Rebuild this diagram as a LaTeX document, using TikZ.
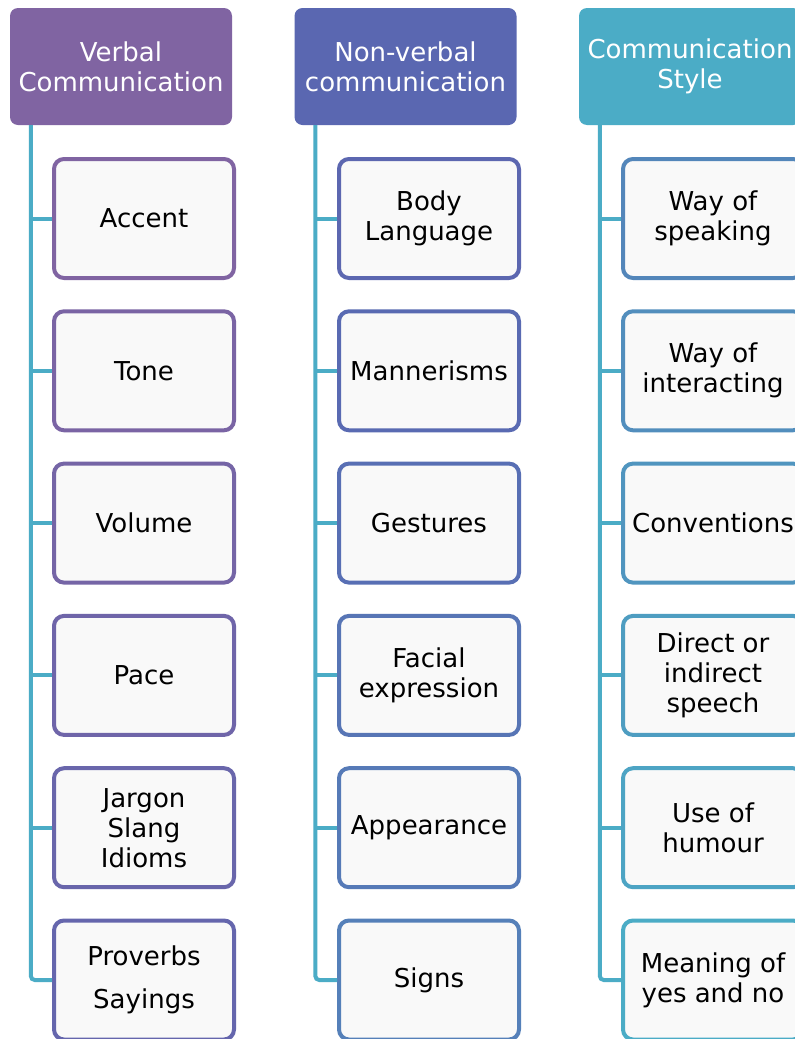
\documentclass[tikz,border=0pt]{standalone}
\usepackage{fontspec}
\setmainfont{DejaVu Sans}

\definecolor{hdrA}{HTML}{8064A2}
\definecolor{hdrB}{HTML}{5A67B1}
\definecolor{hdrC}{HTML}{4BACC6}
\definecolor{spine}{HTML}{4BACC6}
\definecolor{boxfill}{HTML}{F9F9F9}

\tikzset{
	head/.style={rectangle, rounded corners=8pt, inner sep=0mm, minimum width=222pt, minimum height=117pt, text=white, align=center, font=\fontsize{26}{30}\selectfont},
	item/.style={rectangle, rounded corners=10pt, draw=#1, line width=4pt, fill=boxfill, inner sep=0mm, minimum width=180pt, minimum height=119pt, align=center, font=\fontsize{26}{30}\selectfont},
	link/.style={draw=spine, line width=4pt, rounded corners=4pt}
}

\begin{document}
\begin{tikzpicture}[x=1pt,y=-1pt]
	\clip (0,0) rectangle (795,1039);
	\fill[white] (0,0) rectangle (795,1039);

	% headers
	\node[head, fill=hdrA] at (121,66.5) (h1) {Verbal\\Communication};
	\node[head, fill=hdrB] at (405.5,66.5) (h2) {Non-verbal\\communication};
	\node[head, fill=hdrC] at (690,66.5) (h3) {Communication\\Style};

	% verbal
	\node[item={hdrA}] at (144,218.5) (a1) {Accent};
	\node[item={hdrA!85!hdrB}] at (144,370.8) (a2) {Tone};
	\node[item={hdrA!70!hdrB}] at (144,523.1) (a3) {Volume};
	\node[item={hdrA!55!hdrB}] at (144,675.4) (a4) {Pace};
	\node[item={hdrA!40!hdrB}] at (144,827.7) (a5) {Jargon\\Slang\\Idioms};
	\node[item={hdrA!28!hdrB}] at (144,980) (a6) {Proverbs\\[13pt]Sayings};

	% non-verbal
	\node[item={hdrB!95!hdrA}] at (429,218.5) (b1) {Body\\Language};
	\node[item={hdrB!95!hdrC}] at (429,370.8) (b2) {Mannerisms};
	\node[item={hdrB!88!hdrC}] at (429,523.1) (b3) {Gestures};
	\node[item={hdrB!80!hdrC}] at (429,675.4) (b4) {Facial\\expression};
	\node[item={hdrB!72!hdrC}] at (429,827.7) (b5) {Appearance};
	\node[item={hdrB!64!hdrC}] at (429,980) (b6) {Signs};

	% style
	\node[item={hdrB!55!hdrC}] at (713,218.5) (c1) {Way of\\speaking};
	\node[item={hdrB!44!hdrC}] at (713,370.8) (c2) {Way of\\interacting};
	\node[item={hdrB!33!hdrC}] at (713,523.1) (c3) {Conventions};
	\node[item={hdrB!22!hdrC}] at (713,675.4) (c4) {Direct or\\indirect\\speech};
	\node[item={hdrB!11!hdrC}] at (713,827.7) (c5) {Use of\\humour};
	\node[item={hdrC}] at (713,980) (c6) {Meaning of\\yes and no};

	% spines
	\coordinate (s1) at ([xshift=21pt]h1.south west);
	\coordinate (s2) at ([xshift=21pt]h2.south west);
	\coordinate (s3) at ([xshift=21pt]h3.south west);

	\draw[link] (s1) |- (a6.west);
	\draw[link] (s2) |- (b6.west);
	\draw[link] (s3) |- (c6.west);

	\draw[link] (a1.west -| s1) -- (a1.west);
	\draw[link] (a2.west -| s1) -- (a2.west);
	\draw[link] (a3.west -| s1) -- (a3.west);
	\draw[link] (a4.west -| s1) -- (a4.west);
	\draw[link] (a5.west -| s1) -- (a5.west);

	\draw[link] (b1.west -| s2) -- (b1.west);
	\draw[link] (b2.west -| s2) -- (b2.west);
	\draw[link] (b3.west -| s2) -- (b3.west);
	\draw[link] (b4.west -| s2) -- (b4.west);
	\draw[link] (b5.west -| s2) -- (b5.west);

	\draw[link] (c1.west -| s3) -- (c1.west);
	\draw[link] (c2.west -| s3) -- (c2.west);
	\draw[link] (c3.west -| s3) -- (c3.west);
	\draw[link] (c4.west -| s3) -- (c4.west);
	\draw[link] (c5.west -| s3) -- (c5.west);
\end{tikzpicture}
\end{document}
